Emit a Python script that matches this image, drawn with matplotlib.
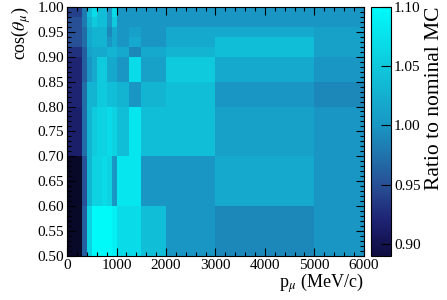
import matplotlib
matplotlib.use('Agg')
import matplotlib.pyplot as plt
import numpy as np
import matplotlib.colors as mcolors
from matplotlib.ticker import MultipleLocator, AutoMinorLocator, FormatStrFormatter

plt.rcParams['font.family'] = ['Liberation Serif', 'DejaVu Serif']
plt.rcParams['mathtext.fontset'] = 'stix'

# bin edges
p_edges = [0, 300, 400, 500, 600, 700, 800, 900, 1000, 1250, 1500, 2000, 3000, 5000, 6000]
cos_edges = [0.50, 0.60, 0.70, 0.80, 0.85, 0.90, 0.92, 0.94, 0.96, 0.98, 1.00]

# ratio per cos slice (bottom -> top), one value per momentum bin
r_050_060 = [0.85, 0.96, 1.06, 1.10, 1.10, 1.10, 1.10, 1.09, 1.07, 1.07, 1.04, 1.00, 0.99, 1.00]
r_060_070 = [0.85, 0.95, 1.03, 1.06, 1.06, 1.07, 1.06, 1.00, 1.08, 1.08, 1.00, 1.00, 1.02, 1.00]
r_070_080 = [0.915, 0.97, 1.03, 1.05, 1.06, 1.06, 1.07, 1.06, 1.04, 1.08, 1.04, 1.04, 1.01, 1.00]
r_080_085 = [0.92, 0.97, 1.03, 1.03, 1.05, 1.05, 1.04, 1.04, 1.03, 1.00, 1.03, 1.04, 1.00, 0.99]
r_085_090 = [0.92, 0.96, 1.00, 1.02, 1.05, 1.05, 1.02, 1.02, 1.00, 1.07, 1.01, 1.05, 1.02, 1.00]
r_090_092 = [0.93, 0.96, 1.01, 1.02, 1.02, 1.02, 1.03, 1.03, 1.02, 0.99, 1.02, 1.03, 1.04, 1.01]
r_092_094 = [0.95, 0.97, 1.02, 1.03, 1.03, 1.03, 1.00, 1.02, 1.00, 1.02, 1.00, 1.02, 1.04, 1.01]
r_094_096 = [0.95, 0.97, 1.02, 1.03, 1.03, 1.03, 0.99, 1.02, 1.00, 1.01, 1.00, 1.02, 1.02, 1.01]
r_096_098 = [0.95, 0.98, 1.03, 1.05, 1.04, 1.04, 1.00, 1.05, 1.00, 1.00, 1.00, 1.00, 1.00, 1.00]
r_098_100 = [0.94, 0.98, 1.04, 1.07, 1.04, 1.04, 1.00, 1.07, 1.00, 1.00, 1.00, 1.00, 1.00, 1.00]

ratio = np.array([r_050_060, r_060_070, r_070_080, r_080_085, r_085_090,
                  r_090_092, r_092_094, r_094_096, r_096_098, r_098_100])

vmin, vmax = 0.89, 1.10
stops = [(0.89, (15, 12, 65)), (0.92, (30, 35, 115)), (0.95, (40, 80, 150)),
         (1.00, (25, 150, 195)), (1.05, (15, 200, 220)), (1.10, (0, 250, 250))]
cmap = mcolors.LinearSegmentedColormap.from_list(
    'sea', [((v - vmin) / (vmax - vmin), tuple(c / 255 for c in rgb)) for v, rgb in stops])
cmap.set_under((8/255, 8/255, 40/255))

fig = plt.figure(figsize=(4.47, 3.0), dpi=100)
ax = fig.add_axes([0.150, 0.147, 0.664, 0.830])
cax = fig.add_axes([0.830, 0.147, 0.045, 0.830])

mesh = ax.pcolormesh(p_edges, cos_edges, ratio, cmap=cmap, vmin=vmin, vmax=vmax)
ax.set_xlim(0, 6000)
ax.set_ylim(0.5, 1.0)

ax.xaxis.set_major_locator(MultipleLocator(1000))
ax.xaxis.set_minor_locator(AutoMinorLocator(5))
ax.yaxis.set_major_locator(MultipleLocator(0.05))
ax.yaxis.set_minor_locator(AutoMinorLocator(5))
ax.tick_params(which='both', direction='in', top=True, right=True, labelsize=11, pad=2)
ax.tick_params(which='major', length=6, width=0.8)
ax.tick_params(which='minor', length=3, width=0.8)
ax.yaxis.set_major_formatter(FormatStrFormatter('%.2f'))

ax.set_xlabel(r'p$_{\mu}$ (MeV/c)', fontsize=13, loc='right', labelpad=0)
ax.set_ylabel(r'cos($\theta_{\mu}$)', fontsize=13, loc='top', labelpad=3)

cb = fig.colorbar(mesh, cax=cax)
cb.set_ticks([0.90, 0.95, 1.00, 1.05, 1.10])
cb.ax.yaxis.set_major_formatter(FormatStrFormatter('%.2f'))
cb.ax.tick_params(direction='in', length=7, width=0.8, labelsize=11, pad=2)
cb.outline.set_linewidth(0.8)
cb.set_label('Ratio to nominal MC', fontsize=15.5, loc='top', labelpad=3)

fig.savefig('out.png', dpi=100)
